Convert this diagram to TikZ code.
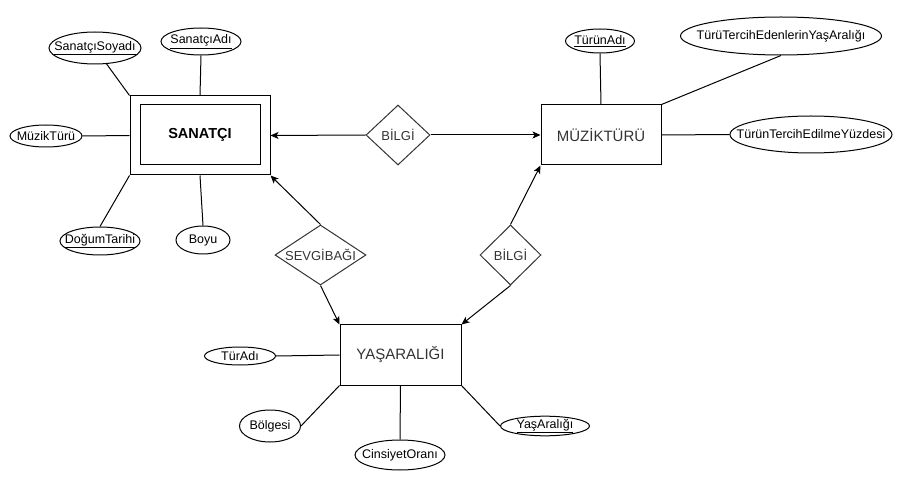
\documentclass[tikz,border=0pt]{standalone}
\usepackage{fontspec}
\setmainfont{Liberation Sans}
\usetikzlibrary{shapes.geometric,arrows.meta}
\newcommand{\zbox}[1]{\makebox[0pt]{#1}}
\newcommand{\ul}[1]{\underline{#1}}
\tikzset{
  line/.style={draw=black, line width=1pt},
  arr/.style={line, -{Stealth[length=8pt,width=7pt,inset=2pt]}},
  attr/.style={draw=black, line width=1pt, ellipse, inner sep=0pt, font=\fontsize{12.5}{14}\selectfont},
  ent/.style={draw=black, line width=1pt, rectangle, inner sep=0pt, font=\fontsize{15}{17}\selectfont, text=black!80},
  rel/.style={draw=black!80, line width=1pt, diamond, inner sep=0pt, font=\fontsize{13}{15}\selectfont, text=black!80},
}
\begin{document}
\begin{tikzpicture}[x=1pt,y=-1pt]
\useasboundingbox (0,0) rectangle (911,481);
% entities
\node[ent, minimum width=140pt, minimum height=79pt] (san) at (200,135.5) {};
\node[ent, minimum width=120pt, minimum height=60pt, font=\fontsize{14.5}{17}\selectfont\bfseries, text=black] (sanin) at (200,135) {SANATÇI};
\node[ent, minimum width=120pt, minimum height=60pt] (mz) at (601,135) {MÜZİKTÜRÜ};
\node[ent, minimum width=121pt, minimum height=60pt] (ya) at (400.5,355) {YAŞARALIĞI};
% relationships
\node[rel, minimum width=64pt, minimum height=60pt] (b1) at (398,135) {\zbox{BİLGİ}};
\node[rel, minimum width=91pt, minimum height=60pt] (sv) at (320.5,255) {\zbox{SEVGİBAĞI}};
\node[rel, minimum width=61pt, minimum height=60pt] (b2) at (510.5,255) {\zbox{BİLGİ}};
% attributes
\node[attr, minimum width=92pt, minimum height=32pt] (ss) at (95,48) {\zbox{\ul{SanatçıSoyadı}}};
\node[attr, minimum width=80pt, minimum height=27pt] (sa) at (201,41.5) {\zbox{\ul{SanatçıAdı}}};
\node[attr, minimum width=72pt, minimum height=22pt] (mt) at (46,136) {\zbox{MüzikTürü}};
\node[attr, minimum width=80pt, minimum height=28pt] (dt) at (100,241) {\zbox{\ul{DoğumTarihi}}};
\node[attr, minimum width=54pt, minimum height=28pt] (boyu) at (203,240) {\zbox{Boyu}};
\node[attr, minimum width=69pt, minimum height=24pt] (ta) at (600,41) {\zbox{\ul{TürünAdı}}};
\node[attr, minimum width=201pt, minimum height=38pt] (tt) at (781,36) {\zbox{TürüTercihEdenlerinYaşAralığı}};
\node[attr, minimum width=162pt, minimum height=37pt] (tte) at (811,134.5) {\zbox{TürünTercihEdilmeYüzdesi}};
\node[attr, minimum width=71pt, minimum height=18pt] (tadi) at (240,356) {\zbox{TürAdı}};
\node[attr, minimum width=61pt, minimum height=32pt] (bol) at (270,426) {\zbox{Bölgesi}};
\node[attr, minimum width=90pt, minimum height=30pt] (co) at (400,455) {\zbox{CinsiyetOranı}};
\node[attr, minimum width=89pt, minimum height=18pt] (yar) at (545,426) {\zbox{\ul{YaşAralığı}}};
% attribute lines
\draw[line] (ss) -- (san.north west);
\draw[line] (sa.south) -- (san.north);
\draw[line] (mt.east) -- (san.west);
\draw[line] (dt.north) -- (san.south west);
\draw[line] (boyu.north) -- (san.south);
\draw[line] (ta.south) -- (mz.north);
\draw[line] (tt.south) -- (mz.north east);
\draw[line] (mz.east) -- (tte.west);
\draw[line] (tadi.east) -- (ya.west);
\draw[line] (bol.east) -- (ya.south west);
\draw[line] (co.north) -- (ya.south);
\draw[line] (ya.south east) -- (yar.west);
% relationship arrows
\draw[arr] (b1.west) -- (san.east);
\draw[arr] (b1.east) -- (mz.west);
\draw[arr] (sv.north) -- (san.south east);
\draw[arr] (sv.south) -- (ya.north west);
\draw[arr] (b2.north) -- (mz.south west);
\draw[arr] (b2.south) -- (ya.north east);
\end{tikzpicture}
\end{document}
